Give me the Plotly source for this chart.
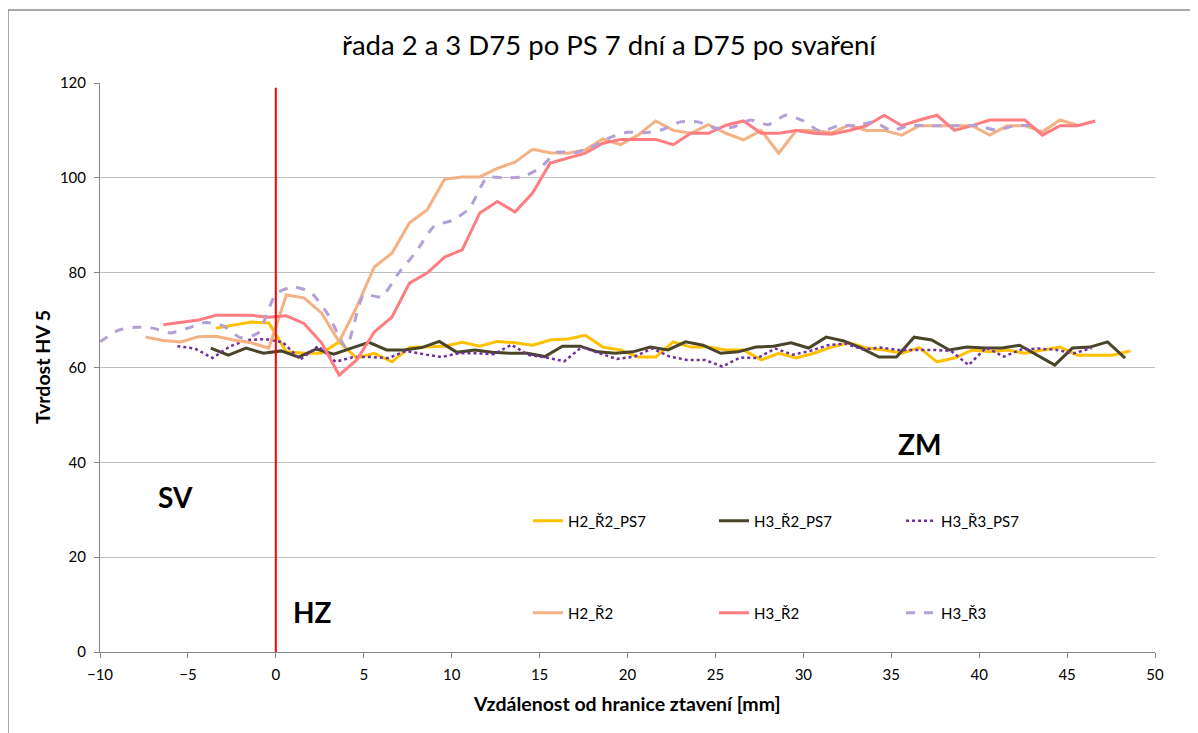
import plotly.graph_objects as go

# ---------------- data ----------------
x_h2r2_ps7 = [-3.4, -2.4, -1.4, -0.4, 0.6, 1.6, 2.6, 3.6, 4.6, 5.6, 6.6, 7.6, 8.6, 9.6,
              10.6, 11.6, 12.6, 13.6, 14.6, 15.6, 16.6, 17.6, 18.6, 19.6, 20.6, 21.6,
              22.6, 23.6, 24.6, 25.6, 26.6, 27.6, 28.6, 29.6, 30.6, 31.6, 32.6, 33.6,
              34.6, 35.6, 36.6, 37.6, 38.6, 39.6, 40.6, 41.6, 42.6, 43.6, 44.6, 45.6,
              46.6, 47.6, 48.6]
y_h2r2_ps7 = [68.3, 69.0, 69.6, 69.4, 63.3, 63.0, 63.0, 65.4, 62.0, 63.0, 61.2, 64.2, 64.3, 64.5,
              65.3, 64.5, 65.5, 65.2, 64.7, 65.8, 66.0, 66.8, 64.3, 63.7, 62.2, 62.2,
              65.4, 64.3, 64.3, 63.7, 63.7, 61.6, 63.0, 62.0, 63.0, 64.3, 65.2, 64.1,
              63.7, 63.0, 64.2, 61.2, 62.0, 63.7, 63.3, 63.7, 63.0, 63.7, 64.3, 62.6,
              62.6, 62.6, 63.5]

x_h3r2_ps7 = [-3.7, -2.7, -1.7, -0.7, 0.3, 1.3, 2.3, 3.3, 4.3, 5.3, 6.3, 7.3, 8.3, 9.3,
              10.3, 11.3, 12.3, 13.3, 14.3, 15.3, 16.3, 17.3, 18.3, 19.3, 20.3, 21.3,
              22.3, 23.3, 24.3, 25.3, 26.3, 27.3, 28.3, 29.3, 30.3, 31.3, 32.3, 33.3,
              34.3, 35.3, 36.3, 37.3, 38.3, 39.3, 40.3, 41.3, 42.3, 43.3, 44.3, 45.3,
              46.3, 47.3, 48.3]
y_h3r2_ps7 = [64.1, 62.6, 64.1, 63.0, 63.5, 62.2, 63.9, 62.8, 64.1, 65.3, 63.7, 63.7, 64.2, 65.5,
              63.2, 63.7, 63.2, 63.0, 63.0, 62.3, 64.5, 64.5, 63.3, 63.0, 63.3, 64.3,
              63.7, 65.4, 64.7, 63.0, 63.3, 64.3, 64.5, 65.2, 64.1, 66.4, 65.6, 64.1,
              62.2, 62.2, 66.4, 65.8, 63.7, 64.3, 64.1, 64.1, 64.7, 62.6, 60.5, 64.1,
              64.3, 65.4, 62.0]

x_h3r3_ps7 = [-5.6, -4.6, -3.6, -2.6, -1.6, -0.6, 0.4, 1.4, 2.4, 3.4, 4.4, 5.4, 6.4, 7.4,
              8.4, 9.4, 10.4, 11.4, 12.4, 13.4, 14.4, 15.4, 16.4, 17.4, 18.4, 19.4,
              20.4, 21.4, 22.4, 23.4, 24.4, 25.4, 26.4, 27.4, 28.4, 29.4, 30.4, 31.4,
              32.4, 33.4, 34.4, 35.4, 36.4, 37.4, 38.4, 39.4, 40.4, 41.4, 42.4, 43.4,
              44.4, 45.4, 46.4]
y_h3r3_ps7 = [64.5, 64.0, 62.0, 64.5, 65.8, 66.0, 65.3, 61.7, 64.5, 61.2, 62.2, 62.2, 62.0, 63.5,
              62.8, 62.2, 63.0, 63.0, 62.8, 64.8, 62.6, 62.1, 61.3, 64.3, 63.0, 61.8,
              62.3, 64.0, 62.3, 61.6, 61.6, 60.2, 62.1, 62.0, 64.0, 62.7, 63.5, 64.7,
              65.0, 63.8, 64.2, 63.7, 63.7, 63.7, 63.5, 60.5, 64.2, 62.3, 63.8, 64.0,
              63.7, 63.0, 64.1]

x_h2r2 = [-7.4, -6.4, -5.4, -4.4, -3.4, -2.4, -1.4, -0.4, 0.6, 1.6, 2.6, 3.6, 4.6, 5.6,
          6.6, 7.6, 8.6, 9.6, 10.6, 11.6, 12.6, 13.6, 14.6, 15.6, 16.6, 17.6, 18.6,
          19.6, 20.6, 21.6, 22.6, 23.6, 24.6, 25.6, 26.6, 27.6, 28.6, 29.6, 30.6,
          31.6, 32.6, 33.6, 34.6, 35.6, 36.6, 37.6, 38.6, 39.6, 40.6, 41.6, 42.6,
          43.6, 44.6, 45.6]
y_h2r2 = [66.4, 65.7, 65.4, 66.5, 66.6, 65.8, 65.2, 64.1, 75.3, 74.7, 71.5, 65.4, 72.8, 81.2,
          84.1, 90.5, 93.2, 99.7, 100.2, 100.2, 102.0, 103.3, 106.0, 105.3, 105.2, 105.9, 108.2,
          107.0, 109.0, 112.0, 110.0, 109.4, 111.2, 109.4, 108.0, 110.0, 105.2, 110.0, 110.0,
          109.5, 111.1, 110.0, 110.0, 109.0, 111.0, 111.0, 111.0, 111.0, 109.0, 111.0, 111.0,
          109.7, 112.2, 111.1]

x_h3r2 = [-6.4, -5.4, -4.4, -3.4, -2.4, -1.4, -0.4, 0.6, 1.6, 2.6, 3.6, 4.6, 5.6, 6.6,
          7.6, 8.6, 9.6, 10.6, 11.6, 12.6, 13.6, 14.6, 15.6, 16.6, 17.6, 18.6, 19.6,
          20.6, 21.6, 22.6, 23.6, 24.6, 25.6, 26.6, 27.6, 28.6, 29.6, 30.6, 31.6,
          32.6, 33.6, 34.6, 35.6, 36.6, 37.6, 38.6, 39.6, 40.6, 41.6, 42.6, 43.6,
          44.6, 45.6, 46.6]
y_h3r2 = [69.0, 69.5, 70.0, 71.0, 71.0, 71.0, 70.6, 70.9, 69.3, 65.2, 58.4, 61.6, 67.5, 70.6,
          77.8, 79.9, 83.3, 84.8, 92.6, 95.0, 92.8, 96.8, 103.1, 104.2, 105.2, 107.3, 108.1,
          108.1, 108.1, 107.0, 109.4, 109.4, 111.1, 112.0, 109.4, 109.4, 110.0, 109.4, 109.2,
          110.0, 111.0, 113.2, 111.0, 112.2, 113.2, 110.0, 111.0, 112.2, 112.2, 112.2, 109.0,
          111.0, 111.0, 112.0]

x_h3r3 = [-10, -9, -8, -7, -6, -5, -4, -3, -2, -1, 0, 1, 2, 3, 4, 5, 6, 7, 8, 9,
          10, 11, 12, 13, 14, 15, 16, 17, 18, 19, 20, 21, 22, 23, 24, 25, 26, 27, 28, 29,
          30, 31, 32, 33, 34, 35, 36, 37, 38, 39, 40, 41, 42, 43]
y_h3r3 = [65.4, 67.8, 68.5, 68.3, 67.3, 68.3, 69.5, 68.8, 66.3, 67.3,
          75.5, 77.0, 75.8, 71.0, 64.3, 75.3, 74.9, 80.0, 84.5, 89.8,
          91.0, 93.5, 100.0, 100.0, 100.2, 102.0, 105.4, 105.3, 106.5, 108.5,
          109.6, 109.5, 110.2, 111.8, 111.8, 110.5, 110.7, 112.2, 111.2, 113.2,
          112.0, 109.8, 111.0, 111.0, 111.8, 110.0, 111.0, 111.0, 111.0, 111.0,
          111.0, 110.0, 111.0, 111.0]

series_names = ["H2_Ř2_PS7", "H3_Ř2_PS7", "H3_Ř3_PS7", "H2_Ř2", "H3_Ř2", "H3_Ř3"]

title_text = "řada 2 a 3 D75 po PS 7 dní a D75 po svaření"
x_title = "Vzdálenost od hranice ztavení [mm]"
y_title = "Tvrdost HV 5"
x_ticks = [-10, -5, 0, 5, 10, 15, 20, 25, 30, 35, 40, 45, 50]
y_ticks = [0, 20, 40, 60, 80, 100, 120]
zones = [("SV", -5.7, 32.7), ("HZ", 2.1, 8.4), ("ZM", 36.6, 43.9)]
boundary_x = 0
boundary_top = 119

# ---------------- styling ----------------
FONT = "Lato"
styles = [
    dict(color="#FFC000", width=3, dash="solid", shape="linear"),
    dict(color="#4A4529", width=3, dash="solid", shape="linear"),
    dict(color="#7030A0", width=2.5, dash="dot", shape="linear"),
    dict(color="#F4B183", width=3, dash="solid", shape="linear"),
    dict(color="#FF7C80", width=3, dash="solid", shape="linear"),
    dict(color="#B4A0D6", width=3, dash="dash", shape="spline"),
]
xs = [x_h2r2_ps7, x_h3r2_ps7, x_h3r3_ps7, x_h2r2, x_h3r2, x_h3r3]
ys = [y_h2r2_ps7, y_h3r2_ps7, y_h3r3_ps7, y_h2r2, y_h3r2, y_h3r3]
legend_ids = ["legend", "legend2", "legend3", "legend4", "legend5", "legend6"]

fig = go.Figure()
for name, x, y, st, lg in zip(series_names, xs, ys, styles, legend_ids):
    fig.add_trace(go.Scatter(
        x=x, y=y, mode="lines", name=name, legend=lg, showlegend=True,
        line=dict(color=st["color"], width=st["width"], dash=st["dash"],
                  shape=st["shape"], smoothing=0.6 if st["shape"] == "spline" else None),
    ))

# The page has an 8px body margin, so the figure is drawn 8px smaller and the
# reference pixel positions are converted relative to the plot area.
OFF = 8
W, H = 1198 - OFF, 733 - OFF
PL, PR, PT, PB = 100, 1155, 83, 652      # plot area in screenshot px
L, T = PL - OFF, PT - OFF
R, B = W - (PR - OFF), H - (PB - OFF)
pw, ph = PR - PL, PB - PT

def px2paper_x(px):
    return (px - PL) / pw

def py2paper_y(py):
    return (PB - py) / ph

legend_cols = [528, 714, 901]
legend_rows = [521, 613]
legends = {}
for i, lg in enumerate(legend_ids):
    col = legend_cols[i % 3]
    row = legend_rows[i // 3]
    legends[lg] = dict(x=px2paper_x(col), y=py2paper_y(row), xanchor="left", yanchor="middle",
                       bgcolor="rgba(0,0,0,0)", font=dict(family=FONT, size=15, color="#000000"),
                       itemwidth=30, visible=True)

annotations = [
    dict(text=f"<b>{x_title}</b>", x=px2paper_x(627), y=py2paper_y(703), xref="paper", yref="paper",
         showarrow=False, xanchor="center", yanchor="middle",
         font=dict(family=FONT, size=19.5, color="#000000")),
    dict(text=f"<b>{y_title}</b>", x=px2paper_x(42), y=py2paper_y(367), xref="paper", yref="paper",
         showarrow=False, xanchor="center", yanchor="middle", textangle=-90,
         font=dict(family=FONT, size=19.5, color="#000000")),
]
for txt, zx, zy in zones:
    annotations.append(dict(text=f"<b>{txt}</b>", x=zx, y=zy, xref="x", yref="y",
                            showarrow=False, xanchor="center", yanchor="middle",
                            font=dict(family=FONT, size=28, color="#000000")))

shapes = [
    dict(type="line", xref="x", yref="y", x0=boundary_x, x1=boundary_x, y0=0, y1=boundary_top,
         line=dict(color="#FF0000", width=2)),
    dict(type="rect", xref="paper", yref="paper",
         x0=px2paper_x(8), x1=px2paper_x(1260), y0=py2paper_y(800), y1=py2paper_y(10),
         line=dict(color="#8C8C8C", width=1.5), fillcolor="rgba(0,0,0,0)", layer="below"),
]

fig.update_layout(
    width=W, height=H,
    margin=dict(l=L, r=R, t=T, b=B, pad=0),
    paper_bgcolor="white", plot_bgcolor="white",
    showlegend=True,
    font=dict(family=FONT, size=15, color="#000000"),
    title=dict(text=title_text, x=(609 - OFF) / W, xref="container", xanchor="center",
               y=1 - (45 - OFF) / H, yref="container", yanchor="middle",
               font=dict(family=FONT, size=27.5, color="#000000")),
    xaxis=dict(range=[-10, 50], tickvals=x_ticks, showgrid=False, zeroline=False,
               showline=True, linecolor="#868686", linewidth=1,
               ticks="outside", ticklen=5, tickcolor="#868686",
               tickfont=dict(family=FONT, size=15, color="#000000"), ticklabelstandoff=4),
    yaxis=dict(range=[0, 120], tickvals=y_ticks, showgrid=True, gridcolor="#BFBFBF", gridwidth=1,
               zeroline=False, showline=True, linecolor="#868686", linewidth=1,
               ticks="outside", ticklen=5, tickcolor="#868686",
               tickfont=dict(family=FONT, size=15, color="#000000"), ticklabelstandoff=5),
    annotations=annotations,
    shapes=shapes,
    **legends,
)

fig.write_html("out.html")
